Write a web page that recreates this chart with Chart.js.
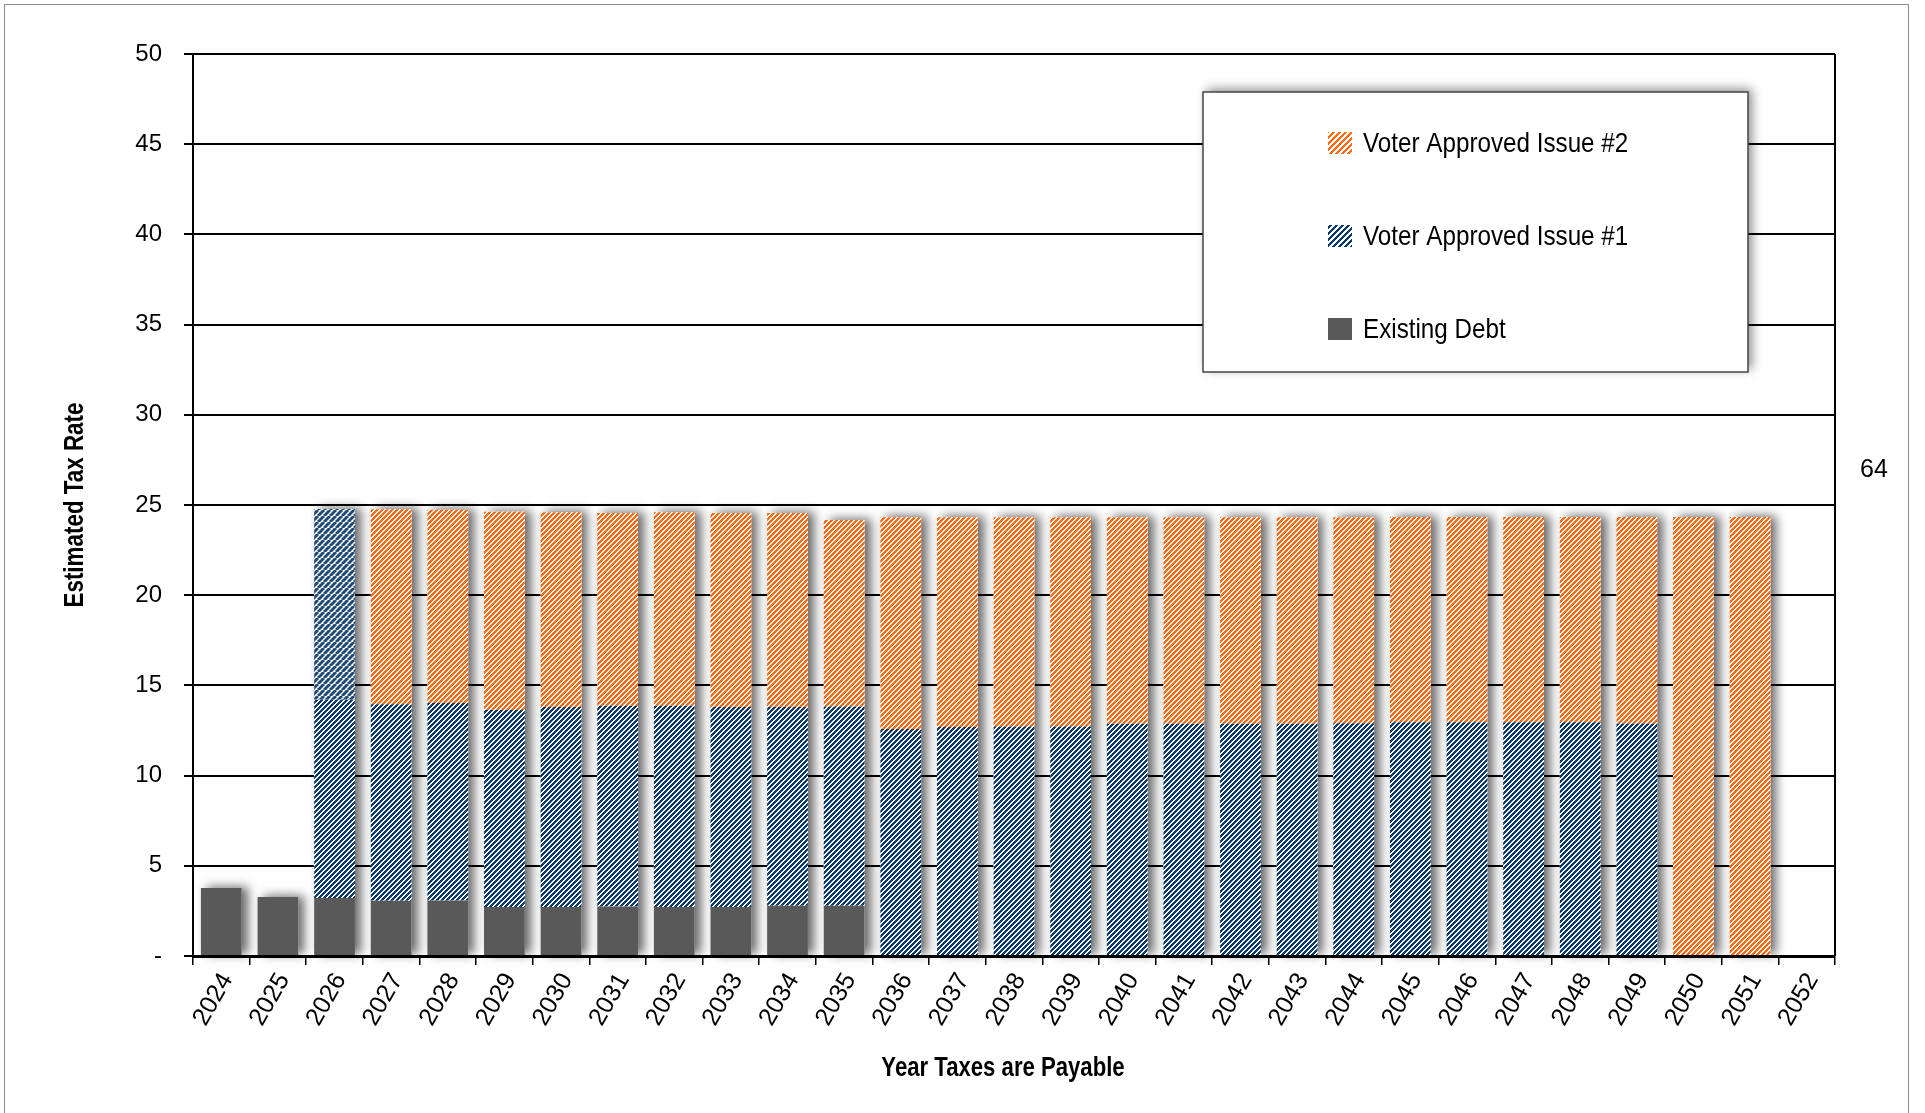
<!DOCTYPE html>
<html>
<head>
<meta charset="utf-8">
<script src="https://cdn.jsdelivr.net/npm/chart.js@4.4.1/dist/chart.umd.min.js"></script>
<style>
    html, body { margin: 0; padding: 0; background: #fff; }
    #wrap { position: relative; width: 1925px; height: 1113px; overflow: hidden; }
    #frame { position: absolute; left: 4px; top: 4px; width: 1903px; height: 1200px; border: 1px solid #8c8c8c; pointer-events: none; }
</style>
</head>
<body>
<div id="wrap">
    <canvas id="chart" width="1925" height="1113"></canvas>
    <div id="frame"></div>
</div>
<script>
const years = ['2024', '2025', '2026', '2027', '2028', '2029', '2030', '2031', '2032', '2033',
    '2034', '2035', '2036', '2037', '2038', '2039', '2040', '2041', '2042', '2043',
    '2044', '2045', '2046', '2047', '2048', '2049', '2050', '2051', '2052']

const existingDebt = [3.77, 3.27, 3.21, 3.06, 3.08, 2.71, 2.71, 2.75, 2.71, 2.72,
    2.79, 2.79, null, null, null, null, null, null, null, null,
    null, null, null, null, null, null, null, null, null]

const issue1 = [null, null, 10.99, 10.9, 10.94, 10.94, 11.09, 11.12, 11.16, 11.08,
    11.01, 11.04, 12.59, 12.69, 12.72, 12.72, 12.87, 12.87, 12.87, 12.87,
    12.9, 12.96, 12.96, 12.96, 12.96, 12.89, null, null, null]

// first year of issue #1 shows a second, lighter blue block on top
const issue1FirstYear = [null, null, 10.58, null, null, null, null, null, null, null,
    null, null, null, null, null, null, null, null, null, null,
    null, null, null, null, null, null, null, null, null]

const issue2 = [null, null, null, 10.8, 10.71, 10.98, 10.8, 10.69, 10.73, 10.76,
    10.76, 10.34, 11.73, 11.63, 11.6, 11.6, 11.45, 11.45, 11.45, 11.45,
    11.42, 11.37, 11.37, 11.37, 11.37, 11.44, 24.33, 24.33, null]

const yTicks = [0, 5, 10, 15, 20, 25, 30, 35, 40, 45, 50]
const xTitle = 'Year Taxes are Payable'
const yTitle = 'Estimated Tax Rate'
const sideNote = '64'

const sans = "'Liberation Sans', Arial, sans-serif"

const canvas = document.getElementById('chart')
const ctx = canvas.getContext('2d')

function hexRgb(hex) {
    const n = parseInt(hex.slice(1), 16)
    return [(n >> 16) & 255, (n >> 8) & 255, n & 255]
}

// crisp "/" stripes, like the office pattern fills
function hatch(color, period, on) {
    const tile = document.createElement('canvas')
    tile.width = period
    tile.height = period
    const g = tile.getContext('2d')
    const img = g.createImageData(period, period)
    const [r, gr, b] = hexRgb(color)
    for (let y = 0; y < period; y++) {
        for (let x = 0; x < period; x++) {
            const i = (y * period + x) * 4
            const hit = (x + y) % period < on
            img.data[i] = hit ? r : 255
            img.data[i + 1] = hit ? gr : 255
            img.data[i + 2] = hit ? b : 255
            img.data[i + 3] = 255
        }
    }
    g.putImageData(img, 0, 0)
    return ctx.createPattern(tile, 'repeat')
}

// softer stripes for the lighter block
function softHatch(color, period, width) {
    const tile = document.createElement('canvas')
    tile.width = period
    tile.height = period
    const g = tile.getContext('2d')
    g.fillStyle = '#fff'
    g.fillRect(0, 0, period, period)
    g.strokeStyle = color
    g.lineWidth = width
    for (const x0 of [-period, 0, period]) {
        g.beginPath()
        g.moveTo(x0, period)
        g.lineTo(x0 + period, 0)
        g.stroke()
    }
    return ctx.createPattern(tile, 'repeat')
}

// narrow text: regular face squeezed sideways
function narrowText(c, text, x, y, size, weight, squeeze, rotate) {
    c.save()
    c.translate(x, y)
    if (rotate) c.rotate(rotate)
    c.scale(squeeze, 1)
    c.font = weight + ' ' + size + 'px ' + sans
    c.fillText(text, 0, 0)
    c.restore()
}

const orange = '#ff6a10'
const navy = '#0a3a6c'
const orangeHatch = hatch(orange, 5, 3)
const blueHatch = hatch(navy, 5, 3)
const blueLight = softHatch('#1f4a78', 6, 3)

const barShadow = {
    id: 'barShadow',
    beforeDatasetsDraw(chart) {
        const c = chart.ctx
        const metas = chart.getSortedVisibleDatasetMetas()
        c.save()
        c.shadowColor = 'rgba(0,0,0,0.6)'
        c.shadowBlur = 10
        c.shadowOffsetX = 6
        c.shadowOffsetY = -1
        c.fillStyle = '#fff'
        years.forEach((_, i) => {
            let top = Infinity, base = -Infinity, x = 0, w = 0
            metas.forEach(m => {
                const v = chart.data.datasets[m.index].data[i]
                if (!v) return
                const p = m.data[i].getProps(['x', 'y', 'base', 'width'], true)
                top = Math.min(top, p.y)
                base = Math.max(base, p.base)
                x = p.x
                w = p.width
            })
            if (top === Infinity) return
            c.fillRect(x - w / 2, top, w, base - top)
        })
        c.restore()
    }
}

const plotFrame = {
    id: 'plotFrame',
    beforeDatasetsDraw(chart) {
        const {ctx: c, chartArea: a} = chart
        c.save()
        c.strokeStyle = '#000'
        c.lineWidth = 2
        c.beginPath()
        c.moveTo(a.right, a.top)
        c.lineTo(a.right, a.bottom)
        c.stroke()
        c.restore()
    }
}

const axisTitles = {
    id: 'axisTitles',
    afterDraw(chart) {
        const c = chart.ctx
        c.save()
        c.fillStyle = '#000'
        c.textAlign = 'center'
        c.textBaseline = 'middle'
        narrowText(c, xTitle, 1003, 1069, 27, 'bold', 0.82)
        narrowText(c, yTitle, 75, 505, 28, 'bold', 0.8, -Math.PI / 2)
        c.restore()
    }
}

const boxLegend = {
    id: 'boxLegend',
    afterDraw(chart, args, opts) {
        const c = chart.ctx
        const {left, top, width, height} = opts.box
        c.save()
        c.shadowColor = 'rgba(0,0,0,0.45)'
        c.shadowBlur = 10
        c.shadowOffsetX = 4
        c.shadowOffsetY = -3
        c.fillStyle = '#fff'
        c.fillRect(left, top, width, height)
        c.restore()

        c.save()
        c.strokeStyle = '#444'
        c.lineWidth = 1.5
        c.strokeRect(left, top, width, height)
        c.textBaseline = 'middle'
        c.textAlign = 'left'
        opts.items.forEach((it, k) => {
            const y = opts.firstY + k * opts.rowGap
            c.fillStyle = it.swatch
            c.fillRect(opts.swatchX, y - 11, 24, 22)
            c.fillStyle = '#000'
            narrowText(c, it.text, opts.swatchX + 35, y + 1, 28, 'normal', 0.865)
        })
        c.restore()
    }
}

const note = {
    id: 'note',
    afterDraw(chart) {
        const c = chart.ctx
        c.save()
        c.font = '25px ' + sans
        c.fillStyle = '#000'
        c.textAlign = 'center'
        c.textBaseline = 'middle'
        c.fillText(sideNote, chart.chartArea.right + 39, 470)
        c.restore()
    }
}

new Chart(ctx, {
    type: 'bar',
    data: {
        labels: years,
        datasets: [
            {label: 'Existing Debt', data: existingDebt, backgroundColor: '#595959'},
            {label: 'Voter Approved Issue #1', data: issue1, backgroundColor: blueHatch},
            {label: 'Voter Approved Issue #1', data: issue1FirstYear, backgroundColor: blueLight},
            {label: 'Voter Approved Issue #2', data: issue2, backgroundColor: orangeHatch},
        ]
    },
    options: {
        responsive: false,
        animation: false,
        devicePixelRatio: 1,
        layout: {padding: {left: 0, top: 54, right: 90, bottom: 0}},
        datasets: {bar: {categoryPercentage: 1, barPercentage: 0.72, borderWidth: 0}},
        plugins: {
            legend: {display: false},
            tooltip: {enabled: false},
            boxLegend: {
                box: {left: 1203, top: 92, width: 545, height: 280},
                swatchX: 1328,
                firstY: 143,
                rowGap: 93,
                items: [
                    {text: 'Voter Approved Issue #2', swatch: hatch(orange, 6, 3)},
                    {text: 'Voter Approved Issue #1', swatch: hatch(navy, 6, 3)},
                    {text: 'Existing Debt', swatch: '#595959'},
                ]
            }
        },
        scales: {
            x: {
                stacked: true,
                grid: {drawOnChartArea: false, color: '#000', lineWidth: 1.5, tickLength: 9, offset: true},
                border: {color: '#000', width: 3},
                ticks: {color: '#000', font: {family: sans, size: 25}, minRotation: 60, maxRotation: 60, autoSkip: false, padding: 3, labelOffset: 6},
                afterFit(s) { s.height = 157 }
            },
            y: {
                stacked: true,
                min: yTicks[0],
                max: yTicks[yTicks.length - 1],
                afterBuildTicks(s) { s.ticks = yTicks.map(v => ({value: v})) },
                ticks: {color: '#000', font: {family: sans, size: 24}, padding: 22, callback: v => v === 0 ? '-' : v},
                grid: {color: '#000', lineWidth: 2, tickLength: 9},
                border: {color: '#000', width: 2},
                afterFit(s) { s.width = 193 }
            }
        }
    },
    plugins: [barShadow, plotFrame, axisTitles, boxLegend, note]
})
</script>
</body>
</html>
